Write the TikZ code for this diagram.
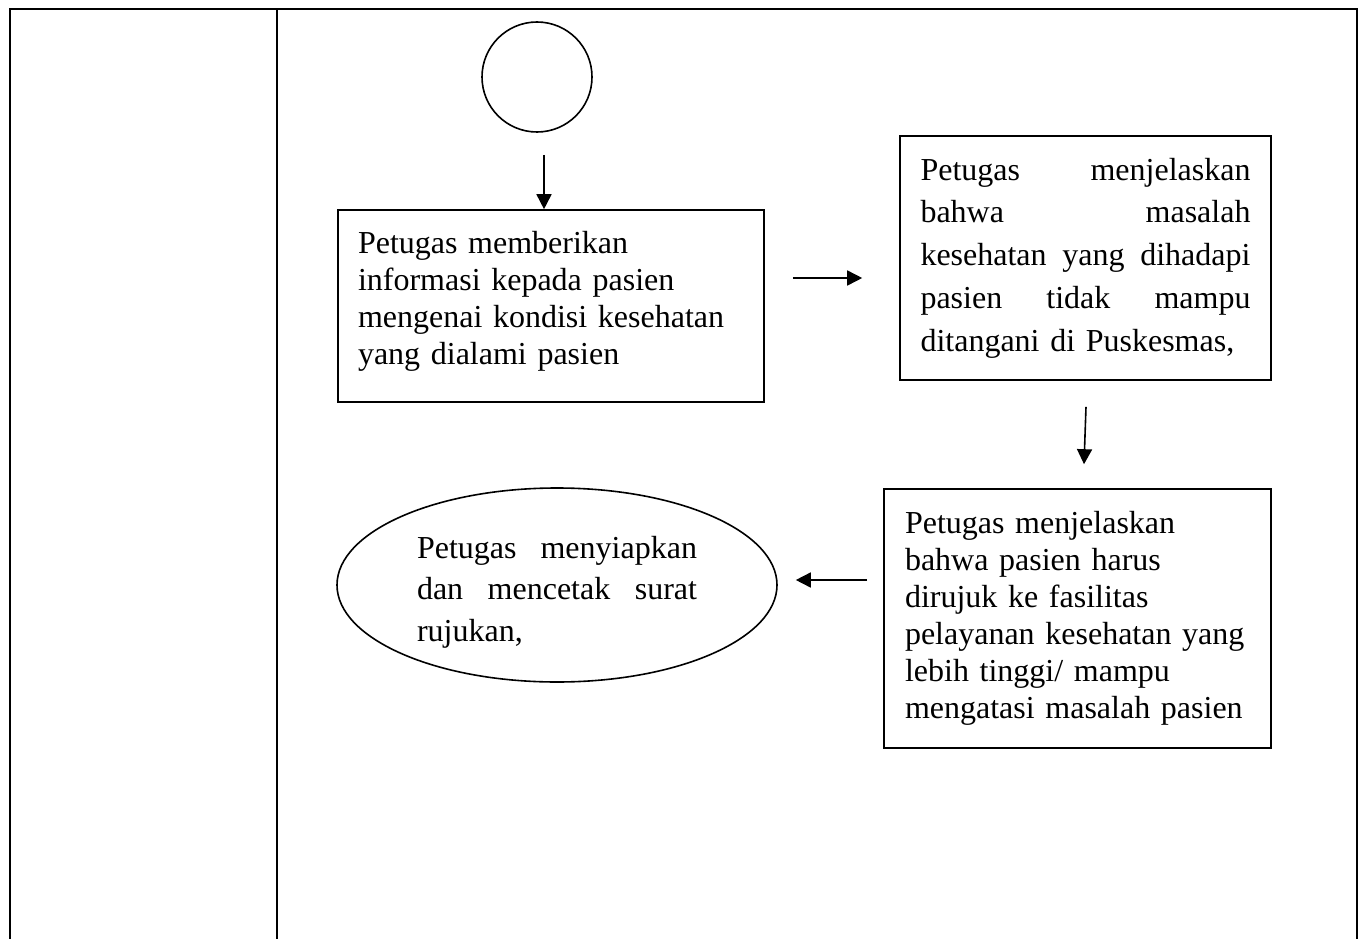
\documentclass[tikz,border=0pt]{standalone}
\usepackage{fontspec}
\setmainfont{Liberation Serif}
\usetikzlibrary{arrows.meta,shapes.geometric}
\newcommand{\penuh}[2]{\leavevmode\hbox to #1{#2}}

\begin{document}
\begin{tikzpicture}[x=1pt, y=-1pt,
	kotak/.style={draw, line width=1.6pt, inner ysep=0pt, align=left},
	panah/.style={line width=1.6pt, -{Triangle[length=15pt,width=15pt]}},
	huruf/.style={font=\fontsize{32}{#1}\selectfont}]
	\useasboundingbox (0,0) rectangle (1362,939);
% frame of the table
	\draw[line width=2.2pt] (10,939) -- (10,9) -- (1357,9) -- (1357,939);
	\draw[line width=2.2pt] (277,9) -- (277,939);

	\node[draw, circle, line width=1.6pt, minimum size=110pt, inner sep=0pt] (mulai) at (537,77) {};

	\node[kotak, huruf=37pt, text width=386pt, inner xsep=20pt, minimum height=192pt] (info) at (551,306)
		{Petugas memberikan\\ informasi kepada pasien\\ mengenai kondisi kesehatan\\ yang dialami pasien\rule[-17pt]{0pt}{0pt}};

	\node[kotak, huruf=42.7pt, text width=330pt, inner xsep=20.5pt, minimum height=244pt] (jelas) at (1085.5,258)
		{\penuh{330pt}{Petugas\hfil menjelaskan}\\ \penuh{330pt}{bahwa\hfil masalah}\\
		 \penuh{330pt}{kesehatan\hfil yang\hfil dihadapi}\\ \penuh{330pt}{pasien\hfil tidak\hfil mampu}\\ ditangani di Puskesmas,};

	\node[kotak, huruf=37pt, text width=345pt, inner xsep=21pt, minimum height=259pt] (rujuk) at (1077.5,618.5)
		{Petugas menjelaskan\\ bahwa pasien harus\\ dirujuk ke fasilitas\\ pelayanan kesehatan yang\\
		 lebih tinggi/ mampu\\ mengatasi masalah pasien};

	\node[draw, ellipse, line width=1.6pt, huruf=41.5pt, align=left, text width=280pt, inner xsep=0pt, inner ysep=-30pt,
		minimum width=440pt, minimum height=194pt] (cetak) at (557,585)
		{\penuh{280pt}{\rule{0pt}{36pt}Petugas\hfil menyiapkan}\\ \penuh{280pt}{dan\hfil mencetak\hfil surat}\\ rujukan,};

% arrows
	\draw[panah] ([xshift=7pt,yshift=-22pt]mulai.south) -- ([xshift=-7pt]info.north);
	\draw[panah] ([xshift=28pt,yshift=28pt]info.east) -- ([xshift=-37pt,yshift=-20pt]jelas.west);
	\draw[panah] ([xshift=0.5pt,yshift=-26pt]jelas.south) -- ([xshift=6.5pt,yshift=24pt]rujuk.north);
	\draw[panah] ([xshift=-16pt,yshift=38.5pt]rujuk.west) -- ([xshift=18pt,yshift=5pt]cetak.east);
\end{tikzpicture}
\end{document}
